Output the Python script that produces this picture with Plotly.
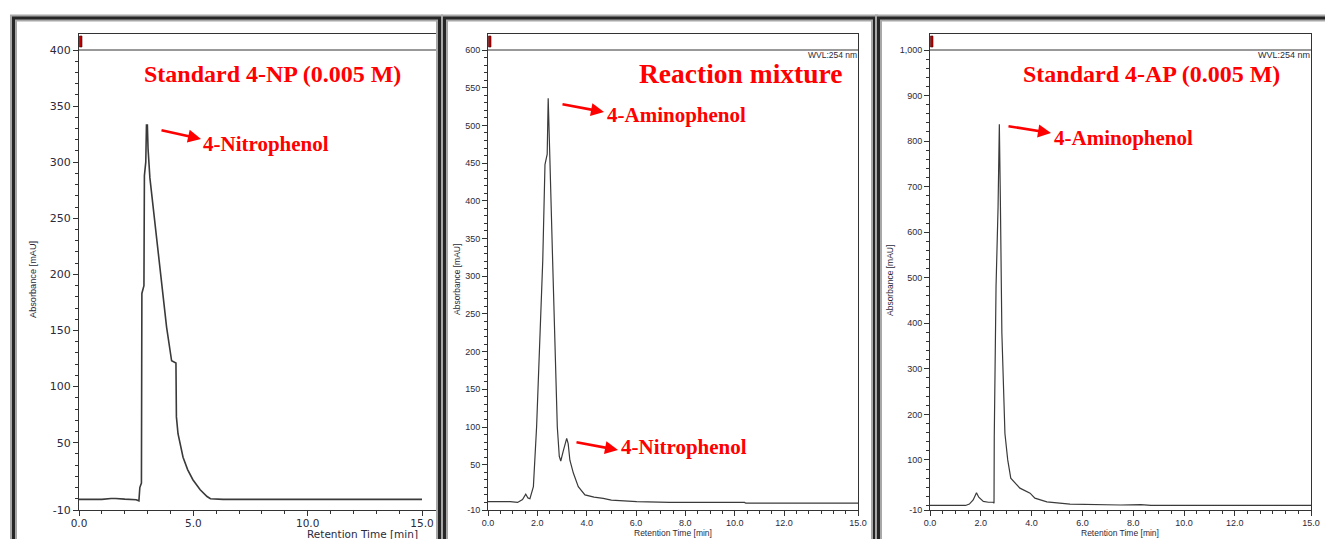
import plotly.graph_objects as go

W, H = 1325, 539

# ---------------- data ----------------
# Panel 1: standard 4-NP (0.005 M)
t_np = [0.0, 1.0, 1.4, 1.5, 1.6, 2.0, 2.5, 2.62, 2.66, 2.73, 2.75, 2.84, 2.86, 2.92,
        2.95, 2.99, 3.02, 3.10, 3.54, 3.83, 4.05, 4.20, 4.24, 4.26, 4.33, 4.55,
        4.75, 4.98, 5.30, 5.60, 5.75, 6.30, 15.0]
a_np = [-0.5, -0.5, 0.3, 0.6, 0.3, -0.3, -0.8, -1.8, 10, 14, 183, 190, 288, 300,
        333, 333, 312, 286, 206, 153, 123, 121, 121, 73, 58, 37,
        26, 17, 8, 2, 0, -0.5, -0.5]

# Panel 2: reaction mixture
t_mix = [0.0, 0.9, 1.2, 1.4, 1.53, 1.62, 1.70, 1.84, 1.97, 2.11, 2.22, 2.31, 2.37,
         2.40, 2.44, 2.46, 2.51, 2.62, 2.72, 2.81, 2.89, 2.95, 3.05, 3.19, 3.25,
         3.32, 3.46, 3.66, 3.93, 4.30, 4.67, 5.00, 6.03, 7.38, 10.40, 10.45, 15.0]
a_mix = [1, 1, 0, 4, 11, 6, 5, 21, 100, 211, 321, 448, 455,
         462, 536, 500, 454, 321, 189, 100, 61, 55, 68, 85, 78,
         56, 39, 21, 10, 7, 5.5, 3, 1, 0, 0, -1, -1]

# Panel 3: standard 4-AP (0.005 M)
t_ap = [0.0, 1.40, 1.55, 1.70, 1.83, 1.92, 2.10, 2.30, 2.48, 2.52, 2.53, 2.60, 2.68,
        2.73, 2.77, 2.83, 2.95, 3.06, 3.18, 3.54, 3.94, 4.13, 4.60, 5.51, 7.50,
        8.30, 8.70, 15.0]
a_ap = [0, 0, 3, 12, 28, 18, 9, 7, 7, 5, 151, 480, 656,
        837, 671, 378, 158, 100, 60, 38, 27, 16, 8, 3, 1,
        2, 0, 0]

# tick labels
x_ticks_np = [0, 5, 10, 15]
x_text_np = ["0.0", "5.0", "10.0", "15.0"]
y_ticks_np = [-10, 50, 100, 150, 200, 250, 300, 350, 400]
y_text_np = ["-10", "50", "100", "150", "200", "250", "300", "350", "400"]

x_ticks_b = [0, 2, 4, 6, 8, 10, 12, 14, 15]
x_text_b = ["0.0", "2.0", "4.0", "6.0", "8.0", "10.0", "12.0", "", "15.0"]

y_ticks_mix = [-10, 50, 100, 150, 200, 250, 300, 350, 400, 450, 500, 550, 600]
y_text_mix = ["-10", "50", "100", "150", "200", "250", "300", "350", "400", "450",
              "500", "550", "600"]

y_ticks_ap = [-10, 100, 200, 300, 400, 500, 600, 700, 800, 900, 1000]
y_text_ap = ["-10", "100", "200", "300", "400", "500", "600", "700", "800", "900", "1,000"]


def px(x):
    return x / W


def py(y):
    return 1 - y / H


LINE = "#3a3a3a"
AX = "#333333"
TXT = "#2a2a3a"
SANS = "Liberation Sans, Arial, sans-serif"
WIDE = "DejaVu Sans, Verdana, sans-serif"
SERIF = "Liberation Serif, Times New Roman, serif"
RED = "#ff0000"

fig = go.Figure()
fig.add_trace(go.Scatter(x=t_np, y=a_np, mode="lines", xaxis="x", yaxis="y",
                         line=dict(color=LINE, width=1.6), showlegend=False))
fig.add_trace(go.Scatter(x=t_mix, y=a_mix, mode="lines", xaxis="x2", yaxis="y2",
                         line=dict(color=LINE, width=1.2), showlegend=False))
fig.add_trace(go.Scatter(x=t_ap, y=a_ap, mode="lines", xaxis="x3", yaxis="y3",
                         line=dict(color=LINE, width=1.2), showlegend=False))

# axis geometry (pixels)
ytop, y0px, ybot = 34, 50, 510
# panel 1
x1_0, x1_15, x1_end = 79, 422, 437
x1_max = 15 * (x1_end - x1_0) / (x1_15 - x1_0)
s1 = (ybot - y0px) / 410.0
y1_max = 400 + (y0px - ytop) / s1
# panel 2
x2_0, x2_15 = 488, 858
s2 = (ybot - y0px) / 610.0
y2_max = 600 + (y0px - ytop) / s2
# panel 3
x3_0, x3_15 = 930, 1311
s3 = (ybot - y0px) / 1010.0
y3_max = 1000 + (y0px - ytop) / s3

ydom = [py(ybot), py(ytop)]


def xax(dom, rng, tv, tt, minor_vals, font, anchor, standoff=0):
    return dict(domain=dom, range=rng, anchor=anchor, showline=True, linecolor=AX,
                linewidth=1, mirror=True, showgrid=False, zeroline=False, automargin=False,
                ticks="outside", ticklen=5, tickcolor=AX, tickvals=tv, ticktext=tt,
                tickfont=font, ticklabelstandoff=standoff,
                minor=dict(tickvals=minor_vals, ticks="outside", ticklen=3, tickcolor=AX))


def yax(dom, rng, tv, tt, minor_vals, font, anchor, mirror):
    return dict(domain=dom, range=rng, anchor=anchor, showline=True, linecolor=AX,
                linewidth=1, mirror=mirror, showgrid=False, zeroline=False, automargin=False,
                ticks="outside", ticklen=5, tickcolor=AX, tickvals=tv, ticktext=tt,
                tickfont=font,
                minor=dict(tickvals=minor_vals, ticks="outside", ticklen=3, tickcolor=AX))


minor_x1 = list(range(0, 16))
minor_xb = [i * 0.5 for i in range(0, 31)]
minor_y1 = list(range(0, 401, 10))
minor_y2 = list(range(0, 601, 10))
minor_y3 = list(range(0, 1001, 20))

f1 = dict(family=WIDE, size=11, color=TXT)
f1x = dict(family=WIDE, size=10.5, color=TXT)
f2 = dict(family=SANS, size=9, color=TXT)

fig.update_layout(
    width=W, height=H, margin=dict(l=0, r=0, t=0, b=0, autoexpand=False),
    paper_bgcolor="white", plot_bgcolor="white", showlegend=False,
    xaxis=xax([px(x1_0), px(x1_end)], [0, x1_max], x_ticks_np, x_text_np, minor_x1, f1x, "y", -2),
    yaxis=yax(ydom, [-10, y1_max], y_ticks_np, y_text_np, minor_y1, f1, "x", False),
    xaxis2=xax([px(x2_0), px(x2_15)], [0, 15], x_ticks_b, x_text_b, minor_xb, f2, "y2", -1),
    yaxis2=yax(ydom, [-10, y2_max], y_ticks_mix, y_text_mix, minor_y2, f2, "x2", True),
    xaxis3=xax([px(x3_0), px(x3_15)], [0, 15], x_ticks_b, x_text_b, minor_xb, f2, "y3", -1),
    yaxis3=yax(ydom, [-10, y3_max], y_ticks_ap, y_text_ap, minor_y3, f2, "x3", True),
)

shapes = []
# strip separator lines
shapes.append(dict(type="line", xref="paper", yref="paper", x0=px(x1_0), x1=px(x1_end),
                   y0=py(y0px), y1=py(y0px), line=dict(color=AX, width=1)))
shapes.append(dict(type="line", xref="paper", yref="paper", x0=px(x2_0), x1=px(x2_15),
                   y0=py(y0px), y1=py(y0px), line=dict(color=AX, width=1)))
shapes.append(dict(type="line", xref="paper", yref="paper", x0=px(x3_0), x1=px(x3_15),
                   y0=py(y0px), y1=py(y0px), line=dict(color=AX, width=1)))
# red markers in the strip
for xm in (x1_0, x2_0, x3_0):
    shapes.append(dict(type="rect", xref="paper", yref="paper", x0=px(xm + 0.5), x1=px(xm + 3),
                       y0=py(47), y1=py(36), fillcolor="#c00000",
                       line=dict(color="#400000", width=0.6)))
# panel frames (shadow + dark border)
frames = [(13.5, 439.5), (444.5, 874.5), (878.5, 1335)]
for fx0, fx1 in frames:
    shapes.append(dict(type="rect", xref="paper", yref="paper", x0=px(fx0), x1=px(fx1),
                       y0=py(560), y1=py(18), line=dict(color="#a8a8a8", width=7),
                       layer="above"))
    shapes.append(dict(type="rect", xref="paper", yref="paper", x0=px(fx0), x1=px(fx1),
                       y0=py(560), y1=py(18), line=dict(color="#262626", width=3),
                       layer="above"))
fig.update_layout(shapes=shapes)

ann = []


def text(x, y, s, size, family=SANS, color=TXT, bold=False, xanchor="center", angle=0):
    ann.append(dict(x=px(x), y=py(y), xref="paper", yref="paper", text=s, showarrow=False,
                    xanchor=xanchor, yanchor="middle", textangle=angle, borderpad=0,
                    font=dict(family=family, size=size, color=color,
                              weight="bold" if bold else "normal")))


def arrow(hx, hy, tx, ty):
    ann.append(dict(x=px(hx), y=py(hy), xref="paper", yref="paper", text="",
                    showarrow=True, ax=tx - hx, ay=ty - hy, arrowcolor=RED,
                    arrowwidth=2.6, arrowhead=2, arrowsize=1, standoff=0, startstandoff=0))


# axis titles
text(362, 533.5, "Retention Time [min]", 10.5, family=WIDE)
text(673, 532.5, "Retention Time [min]", 8.5)
text(1120, 532.5, "Retention Time [min]", 8.5)
text(33, 280, "Absorbance [mAU]", 9.2, angle=-90)
text(457, 280, "Absorbance [mAU]", 8.5, angle=-90)
text(890, 281, "Absorbance [mAU]", 8.5, angle=-90)
# WVL labels
text(858, 54.5, "WVL:254 nm", 8.5, xanchor="right")
text(1311, 55, "WVL:254 nm", 9, xanchor="right")
# red labels
text(272.5, 74, "Standard 4-NP (0.005 M)", 24, SERIF, RED, True)
text(740.5, 73, "Reaction mixture", 27.5, SERIF, RED, True)
text(1151, 74, "Standard 4-AP (0.005 M)", 24, SERIF, RED, True)
text(266, 144, "4-Nitrophenol", 21, SERIF, RED, True)
text(677, 115, "4-Aminophenol", 21, SERIF, RED, True)
text(684, 447, "4-Nitrophenol", 21, SERIF, RED, True)
text(1123, 138, "4-Aminophenol", 21, SERIF, RED, True)
# arrows (head, tail)
arrow(201, 139, 160, 130)
arrow(604, 112, 561, 104)
arrow(618, 450, 575, 442)
arrow(1051, 133, 1007, 126)

fig.update_layout(annotations=ann)

fig.write_html("out.html")
